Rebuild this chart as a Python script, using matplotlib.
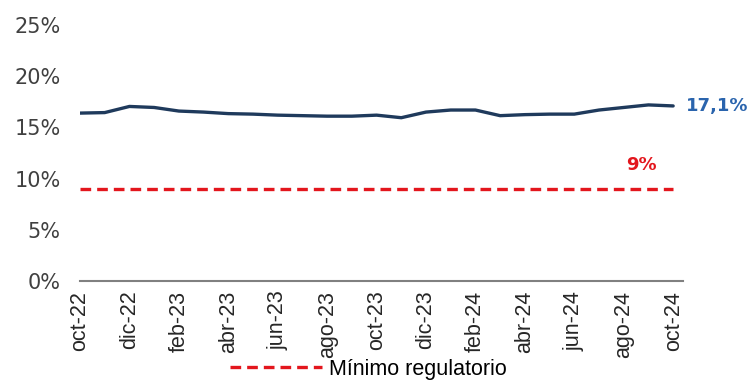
import numpy as np
import matplotlib.pyplot as plt

# meses (oct-22 .. oct-24)
meses = ['oct-22', 'nov-22', 'dic-22', 'ene-23', 'feb-23', 'mar-23', 'abr-23',
         'may-23', 'jun-23', 'jul-23', 'ago-23', 'sep-23', 'oct-23', 'nov-23',
         'dic-23', 'ene-24', 'feb-24', 'mar-24', 'abr-24', 'may-24', 'jun-24',
         'jul-24', 'ago-24', 'sep-24', 'oct-24']

# ratio de solvencia (%)
solvencia = [16.4, 16.45, 17.05, 16.95, 16.6, 16.5, 16.35, 16.3, 16.2, 16.15,
             16.1, 16.1, 16.2, 15.95, 16.5, 16.7, 16.7, 16.15, 16.25, 16.3,
             16.3, 16.7, 16.95, 17.2, 17.1]

minimo = 9.0
y_ticks = [0, 5, 10, 15, 20, 25]

fig = plt.figure(figsize=(7.51, 3.82), dpi=100)
ax = fig.add_axes([0.1065, 0.2644, 0.803, 0.670])

x = np.arange(len(meses))
ax.plot(x, solvencia, color='#1f3a5c', lw=2.4,
        solid_capstyle='round', solid_joinstyle='round')
ax.plot(x, [minimo] * len(x), color='#e3161d', lw=2.4, dashes=(3.2, 1.8),
        label='Mínimo regulatorio')

ax.set_xlim(0, 24.4)
ax.set_ylim(0, 25)
ax.set_yticks(y_ticks)
ax.set_yticklabels([f'{v}%' for v in y_ticks], fontsize=15, color='#404040')
ax.set_xticks(x[::2])
ax.set_xticklabels(meses[::2], rotation=90, fontsize=15.5, color='#262626',
                   family='Liberation Sans')
ax.tick_params(length=0)
ax.tick_params(axis='y', pad=14)
ax.tick_params(axis='x', pad=7)

for s in ['top', 'right', 'left']:
    ax.spines[s].set_visible(False)
ax.spines['bottom'].set_color('#808080')
ax.spines['bottom'].set_linewidth(1.5)

# etiquetas
ax.annotate('17,1%', xy=(x[-1], solvencia[-1]), xytext=(9, 0),
            textcoords='offset points', va='center', ha='left',
            color='#2a64ad', fontweight='bold', fontsize=13,
            annotation_clip=False)
ax.text(22.7, 11.3, '9%', ha='center', va='center', color='#e3161d',
        fontweight='bold', fontsize=13)

fig.legend(loc='lower center', bbox_to_anchor=(0.49, -0.045), frameon=False,
           handlelength=4.3, handletextpad=0.3,
           prop={'family': 'Liberation Sans', 'size': 15.5})

fig.savefig('out.png', dpi=100)
